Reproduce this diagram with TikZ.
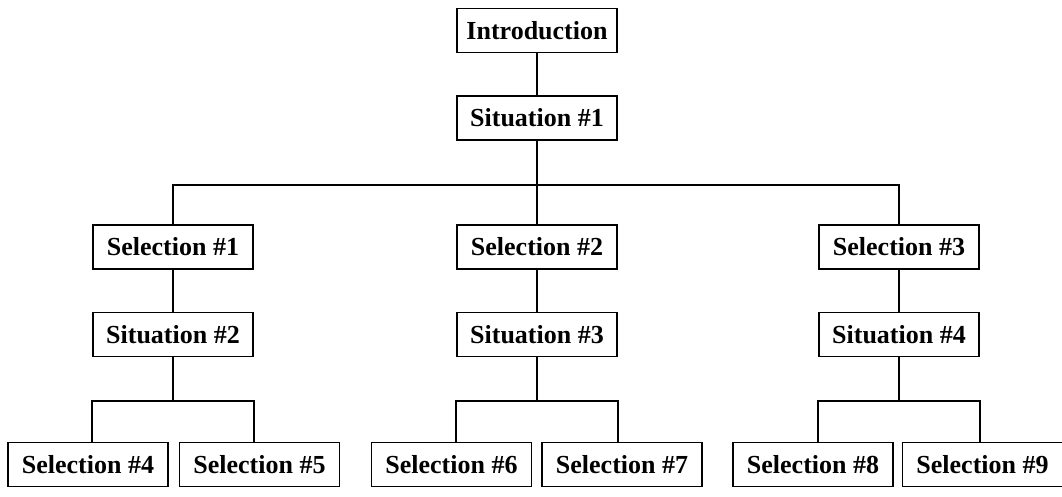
\documentclass[tikz,border=0pt]{standalone}
\usepackage{fontspec}
\setmainfont{Liberation Serif}
\tikzset{>=latex}

\begin{document}
\begin{tikzpicture}[
    x=1pt, y=-1pt,
    link/.style={line width=1.8pt},
    every node/.style={draw, rectangle, align=center, line width=1.4pt,
        minimum width=160pt, minimum height=44pt, inner sep=0pt,
        font=\fontsize{26}{30}\selectfont\bfseries}
]
    \useasboundingbox (0,0) rectangle (1062,497);

    % Nodes
    \node (Intro) at (537,30.5) {Introduction};
    \node (Sit1) at (537,118) {Situation \#1};

    \node (Sel1) at (173,247) {Selection \#1};
    \node (Sel2) at (537,247) {Selection \#2};
    \node (Sel3) at (899,247) {Selection \#3};

    \node (Sit2) at (173,334.5) {Situation \#2};
    \node (Sit3) at (537,334.5) {Situation \#3};
    \node (Sit4) at (899,334.5) {Situation \#4};

    \node (Sel4) at (88,464.5) {Selection \#4};
    \node (Sel5) at (259.5,464.5) {Selection \#5};
    \node (Sel6) at (451.5,464.5) {Selection \#6};
    \node (Sel7) at (622,464.5) {Selection \#7};
    \node (Sel8) at (813,464.5) {Selection \#8};
    \node (Sel9) at (982.5,464.5) {Selection \#9};

    % Lines
    \draw[link] (Intro) -- (Sit1);
    \draw[link] (Sit1.south) -- ++(0,44) coordinate (Bus1);
    \draw[link] (Sel1) |- (Bus1) -| (Sel3);
    \draw[link] (Bus1) -- (Sel2);

    \foreach \p/\s/\a/\b in {1/2/4/5, 2/3/6/7, 3/4/8/9} {
        \draw[link] (Sel\p) -- (Sit\s);
        \draw[link] (Sit\s.south) -- ++(0,44) coordinate (Bus\s);
        \draw[link] (Sel\p.west |- Sel\a.north) |- (Bus\s) -| (Sel\p.east |- Sel\b.north);
    }
\end{tikzpicture}
\end{document}
